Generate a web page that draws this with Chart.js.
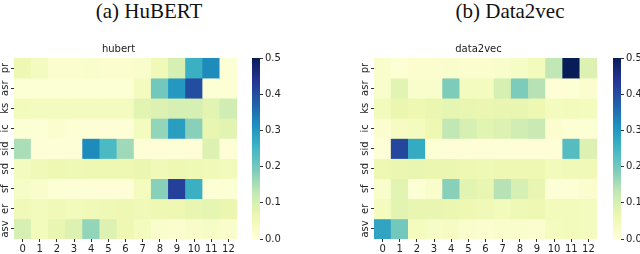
<!DOCTYPE html>
<html>
<head>
<meta charset="utf-8">
<script src="https://cdn.jsdelivr.net/npm/chart.js@4"></script>
<style>
  body { margin: 0; background: #fff; width: 640px; height: 254px; position: relative; overflow: hidden; }
  canvas { position: absolute; }
  .panel-title { position: absolute; top: 0; font-family: "Liberation Serif", serif; font-size: 21px; line-height: 22px; color: #111; text-align: center; width: 200px; }
</style>
</head>
<body>
<div class="panel-title" style="left:49px">(a) HuBERT</div>
<div class="panel-title" style="left:410px">(b) Data2vec</div>
<canvas id="hubertHeat" width="240" height="211" style="left:0px;top:43px"></canvas>
<canvas id="hubertBar" width="40" height="211" style="left:252px;top:43px"></canvas>
<canvas id="d2vHeat" width="240" height="211" style="left:360px;top:43px"></canvas>
<canvas id="d2vBar" width="40" height="211" style="left:613px;top:43px"></canvas>
<script>
const tasks = ['pr', 'asr', 'ks', 'ic', 'sid', 'sd', 'sf', 'er', 'asv'];
const layers = ['0', '1', '2', '3', '4', '5', '6', '7', '8', '9', '10', '11', '12'];
const colorbarTicks = [0, 0.1, 0.2, 0.3, 0.4, 0.5];

// one row per task, one value per layer
const hubertWeights = [
    [0.06, 0.04, 0.015, 0.015, 0.02, 0.015, 0.015, 0.02, 0.05, 0.10, 0.26, 0.32, 0.01],
    [0.01, 0.01, 0.01, 0.01, 0.01, 0.01, 0.01, 0.04, 0.20, 0.30, 0.40, 0.01, 0.01],
    [0.045, 0.04, 0.04, 0.04, 0.04, 0.04, 0.04, 0.08, 0.09, 0.10, 0.10, 0.08, 0.11],
    [0.01, 0.01, 0.015, 0.01, 0.005, 0.005, 0.005, 0.04, 0.17, 0.29, 0.18, 0.07, 0.08],
    [0.15, 0.005, 0.005, 0.005, 0.32, 0.24, 0.16, 0.005, 0.005, 0.005, 0.005, 0.09, 0.005],
    [0.04, 0.05, 0.06, 0.055, 0.06, 0.06, 0.06, 0.065, 0.05, 0.06, 0.055, 0.05, 0.045],
    [0.03, 0.02, 0.01, 0.005, 0.005, 0.005, 0.005, 0.04, 0.18, 0.42, 0.26, 0.01, 0.01],
    [0.05, 0.045, 0.05, 0.045, 0.05, 0.055, 0.06, 0.05, 0.06, 0.06, 0.07, 0.075, 0.065],
    [0.10, 0.045, 0.07, 0.09, 0.17, 0.09, 0.06, 0.04, 0.02, 0.015, 0.025, 0.03, 0.02]
];

const data2vecWeights = [
    [0.02, 0.01, 0.015, 0.015, 0.02, 0.015, 0.015, 0.02, 0.03, 0.045, 0.13, 0.50, 0.09],
    [0.02, 0.08, 0.02, 0.02, 0.19, 0.04, 0.04, 0.10, 0.19, 0.14, 0.005, 0.01, 0.015],
    [0.045, 0.065, 0.06, 0.065, 0.075, 0.07, 0.065, 0.07, 0.07, 0.06, 0.04, 0.045, 0.04],
    [0.015, 0.035, 0.04, 0.06, 0.13, 0.10, 0.08, 0.09, 0.11, 0.12, 0.015, 0.01, 0.01],
    [0.005, 0.41, 0.27, 0.01, 0.005, 0.005, 0.005, 0.005, 0.005, 0.005, 0.005, 0.23, 0.09],
    [0.06, 0.065, 0.07, 0.065, 0.065, 0.06, 0.055, 0.06, 0.06, 0.06, 0.045, 0.05, 0.05],
    [0.02, 0.08, 0.01, 0.02, 0.18, 0.08, 0.07, 0.14, 0.10, 0.07, 0.005, 0.01, 0.015],
    [0.04, 0.08, 0.07, 0.07, 0.065, 0.06, 0.05, 0.045, 0.055, 0.06, 0.045, 0.045, 0.04],
    [0.28, 0.20, 0.04, 0.03, 0.035, 0.02, 0.015, 0.02, 0.02, 0.015, 0.04, 0.045, 0.04]
];

const vmax = 0.5;
const tickFont = { family: 'DejaVu Sans', size: 10 };

// YlGnBu colormap stops
const ylgnbu = ['#ffffd9', '#edf8b1', '#c7e9b4', '#7fcdbb', '#41b6c4', '#1d91c0', '#225ea8', '#253494', '#081d58'];

function hexToRgb(hex) {
    return [1, 3, 5].map(i => parseInt(hex.slice(i, i + 2), 16));
}

function colorFor(value) {
    let t = Math.max(0, Math.min(1, value / vmax)) * (ylgnbu.length - 1);
    const i = Math.min(Math.floor(t), ylgnbu.length - 2);
    const f = t - i;
    const a = hexToRgb(ylgnbu[i]);
    const b = hexToRgb(ylgnbu[i + 1]);
    const c = a.map((v, k) => Math.round(v + (b[k] - v) * f));
    return `rgb(${c[0]}, ${c[1]}, ${c[2]})`;
}

// rotated task names next to the rows
const rowLabels = {
    id: 'rowLabels',
    afterDraw(chart) {
        const ctx = chart.ctx;
        const yScale = chart.scales.y;
        const x = chart.chartArea.left - 9;
        ctx.save();
        ctx.font = '10px "DejaVu Sans"';
        ctx.fillStyle = '#222';
        ctx.textAlign = 'center';
        ctx.textBaseline = 'middle';
        tasks.forEach((task, i) => {
            const y = yScale.getPixelForValue(i + 0.5);
            ctx.save();
            ctx.translate(x, y);
            ctx.rotate(-Math.PI / 2);
            ctx.fillText(task, 0, 0);
            ctx.restore();
        });
        ctx.restore();
    }
};

function createHeatmap(canvasId, weights, title) {
    const ctx = document.getElementById(canvasId).getContext('2d');
    const datasets = tasks.map((task, r) => ({
        label: task,
        data: weights[r].map(() => [r, r + 1]),
        backgroundColor: weights[r].map(v => colorFor(v)),
        borderWidth: 0,
        grouped: false,
        barPercentage: 1,
        categoryPercentage: 1
    }));

    return new Chart(ctx, {
        type: 'bar',
        data: { labels: layers, datasets: datasets },
        options: {
            responsive: false,
            animation: false,
            layout: { padding: { right: 3 } },
            plugins: {
                legend: { display: false },
                tooltip: { enabled: false },
                title: {
                    display: true,
                    text: title,
                    color: '#222',
                    font: { family: 'DejaVu Sans', size: 10, weight: 'normal' },
                    padding: { top: 0, bottom: 3 }
                }
            },
            scales: {
                x: {
                    grid: { display: true, drawOnChartArea: false, offset: false, tickLength: 3, color: '#333' },
                    border: { display: false },
                    ticks: { color: '#222', font: tickFont, maxRotation: 0, padding: 1 },
                    afterFit: scale => { scale.height = 15; }
                },
                y: {
                    type: 'linear',
                    min: 0,
                    max: tasks.length,
                    reverse: true,
                    afterBuildTicks: scale => {
                        scale.ticks = tasks.map((t, i) => ({ value: i + 0.5 }));
                    },
                    grid: { display: true, drawOnChartArea: false, tickLength: 3, color: '#333' },
                    border: { display: false },
                    ticks: { callback: () => '', font: tickFont },
                    afterFit: scale => { scale.width = 14; }
                }
            }
        },
        plugins: [rowLabels]
    });
}

// gradient strip behind the colorbar axis
const gradientStrip = {
    id: 'gradientStrip',
    beforeDraw(chart) {
        const { ctx, chartArea } = chart;
        const grad = ctx.createLinearGradient(0, chartArea.bottom, 0, chartArea.top);
        ylgnbu.forEach((c, i) => grad.addColorStop(i / (ylgnbu.length - 1), c));
        ctx.save();
        ctx.fillStyle = grad;
        ctx.fillRect(chartArea.left, chartArea.top, chartArea.right - chartArea.left, chartArea.bottom - chartArea.top);
        ctx.restore();
    }
};

function createColorbar(canvasId) {
    const ctx = document.getElementById(canvasId).getContext('2d');
    return new Chart(ctx, {
        type: 'bar',
        data: { labels: [''], datasets: [] },
        options: {
            responsive: false,
            animation: false,
            layout: { padding: { top: 15, bottom: 15 } },
            plugins: { legend: { display: false }, tooltip: { enabled: false } },
            scales: {
                x: { display: false },
                y: {
                    position: 'right',
                    min: 0,
                    max: vmax,
                    afterBuildTicks: scale => {
                        scale.ticks = colorbarTicks.map(v => ({ value: v }));
                    },
                    grid: { display: true, drawOnChartArea: false, tickLength: 3, color: '#333' },
                    border: { display: false },
                    ticks: { color: '#222', font: tickFont, padding: 2, callback: v => v.toFixed(1) },
                    afterFit: scale => { scale.width = 32; }
                }
            }
        },
        plugins: [gradientStrip]
    });
}

createHeatmap('hubertHeat', hubertWeights, 'hubert');
createColorbar('hubertBar');
createHeatmap('d2vHeat', data2vecWeights, 'data2vec');
createColorbar('d2vBar');
</script>
</body>
</html>
